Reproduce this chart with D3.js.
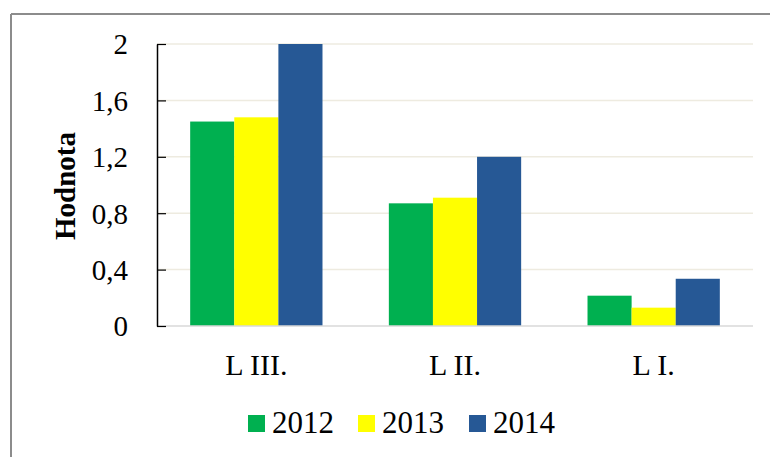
<!DOCTYPE html>
<html>
<head>
<meta charset="utf-8">
<script src="https://cdn.jsdelivr.net/npm/d3@7"></script>
<style>
  body { margin: 0; background: #fff; }
  svg text { font-family: "Liberation Serif", "Times New Roman", serif; fill: #000; }
</style>
</head>
<body>
<div id="chart"></div>
<script>
// data
var categories = ["L III.", "L II.", "L I."];
var years = ["2012", "2013", "2014"];
var values2012 = [1.45, 0.87, 0.215];
var values2013 = [1.48, 0.91, 0.13];
var values2014 = [2.0, 1.2, 0.335];
var yTicks = [0, 0.4, 0.8, 1.2, 1.6, 2];
var colors = ["#00b050", "#ffff00", "#265895"];

var series = [values2012, values2013, values2014];

var width = 770, height = 457;
var svg = d3.select("#chart").append("svg")
  .attr("width", width).attr("height", height);

// chart frame (only left and top edges visible)
svg.append("line").attr("x1", 11).attr("y1", 14).attr("x2", 11).attr("y2", height)
  .attr("stroke", "#8c8c8c").attr("stroke-width", 2);
svg.append("line").attr("x1", 11).attr("y1", 14).attr("x2", width).attr("y2", 14)
  .attr("stroke", "#8c8c8c").attr("stroke-width", 2);

var plotL = 157, plotR = 753, plotT = 44, plotB = 326;

var x = d3.scaleBand().domain(categories).range([plotL, plotR]).paddingInner(0).paddingOuter(0);
var y = d3.scaleLinear().domain([0, 2]).range([plotB, plotT]);

// gridlines
svg.append("g").selectAll("line")
  .data(yTicks.filter(function(d) { return d > 0; }))
  .enter().append("line")
  .attr("x1", plotL).attr("x2", plotR)
  .attr("y1", function(d) { return y(d); }).attr("y2", function(d) { return y(d); })
  .attr("stroke", "#eeebe0").attr("stroke-width", 1.5);

// bars
var barW = x.bandwidth() * 0.222;
var groups = svg.append("g").selectAll("g")
  .data(series).enter().append("g")
  .attr("fill", function(d, i) { return colors[i]; });
groups.each(function(vals, si) {
  d3.select(this).selectAll("rect")
    .data(vals).enter().append("rect")
    .attr("x", function(d, i) { return x(categories[i]) + x.bandwidth() / 2 - 1.5 * barW + si * barW; })
    .attr("width", barW)
    .attr("y", function(d) { return y(d); })
    .attr("height", function(d) { return y(0) - y(d); });
});

// baseline
svg.append("line").attr("x1", plotL).attr("x2", plotR)
  .attr("y1", y(0)).attr("y2", y(0))
  .attr("stroke", "#d9d9d9").attr("stroke-width", 1.5);

// y axis
var yAxis = d3.axisLeft(y).tickValues(yTicks).tickSizeInner(-9).tickSizeOuter(0)
  .tickPadding(29)
  .tickFormat(function(d) { return d3.format("~g")(d).replace(".", ","); });
var ya = svg.append("g").attr("transform", "translate(" + plotL + ",0)").call(yAxis);
ya.select(".domain").attr("stroke", "#000").attr("stroke-width", 1.5);
ya.selectAll(".tick line").attr("stroke", "#000").attr("stroke-width", 1.2);
ya.selectAll(".tick text").attr("font-size", 29).attr("font-family", "Liberation Serif").attr("dy", "0.34em");

// x labels
svg.append("g").selectAll("text")
  .data(categories).enter().append("text")
  .attr("x", function(d) { return x(d) + x.bandwidth() / 2; })
  .attr("y", 375)
  .attr("text-anchor", "middle")
  .attr("font-size", 30)
  .text(function(d) { return d; });

// y title
svg.append("text")
  .attr("transform", "translate(75,186) rotate(-90)")
  .attr("text-anchor", "middle")
  .attr("font-size", 29)
  .attr("font-weight", "bold")
  .text("Hodnota");

// legend
var legendX = [248, 358, 469];
var leg = svg.append("g").selectAll("g")
  .data(years).enter().append("g")
  .attr("transform", function(d, i) { return "translate(" + legendX[i] + ",0)"; });
leg.append("rect").attr("x", 0).attr("y", 415).attr("width", 17).attr("height", 17)
  .attr("fill", function(d, i) { return colors[i]; });
leg.append("text").attr("x", 24).attr("y", 433).attr("font-size", 31)
  .text(function(d) { return d; });
</script>
</body>
</html>
